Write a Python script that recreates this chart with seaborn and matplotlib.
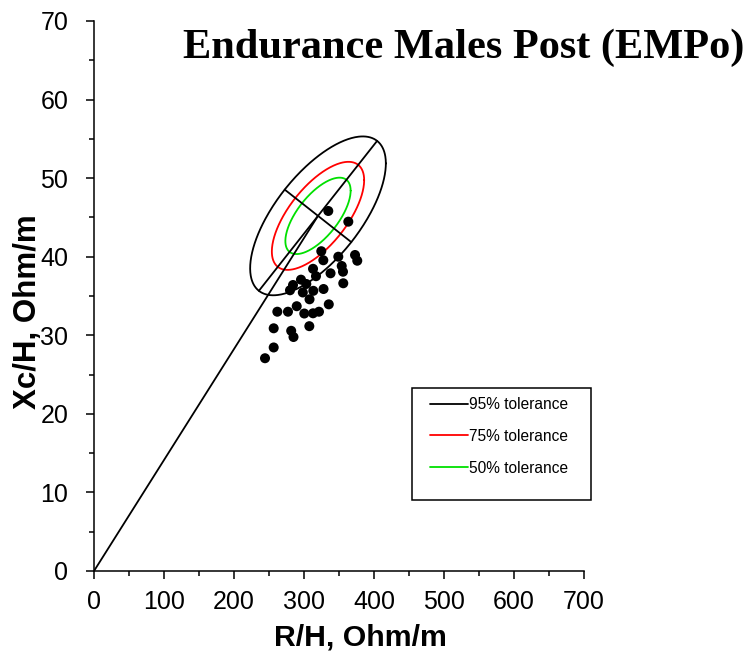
import numpy as np
import pandas as pd
import matplotlib
matplotlib.use("Agg")
import matplotlib.pyplot as plt
from matplotlib.lines import Line2D
from matplotlib.patches import Rectangle
import seaborn as sns

# Individual vectors: resistance and reactance normalised by height (Ohm/m)
r_h = [334.7, 363.3, 324.7, 327.6, 349.0, 372.9, 376.1, 353.9, 355.7, 312.9,
       317.1, 337.9, 295.7, 284.3, 303.3, 280.0, 298.3, 313.3, 327.9, 356.1,
       307.9, 335.4, 261.9, 277.1, 289.6, 300.4, 312.9, 321.4, 256.7, 281.7,
       285.0, 307.6, 256.7, 244.3]
xc_h = [45.82, 44.46, 40.70, 39.55, 40.00, 40.22, 39.49, 38.82, 38.09, 38.46,
        37.52, 37.89, 37.08, 36.40, 36.53, 35.73, 35.45, 35.66, 35.89, 36.62,
        34.58, 33.94, 33.00, 33.00, 33.70, 32.77, 32.80, 33.00, 30.89, 30.57,
        29.78, 31.16, 28.45, 27.08]

# Reference population statistics used for the tolerance ellipses
ref_mean = [320.0, 45.2]     # mean R/H, mean Xc/H
ref_sd = [39.6, 4.13]        # SD R/H, SD Xc/H
ref_corr = 0.66              # correlation R/H vs Xc/H

tolerance_levels = [0.95, 0.75, 0.50]
tolerance_labels = ["95% tolerance", "75% tolerance", "50% tolerance"]
tolerance_colors = ["black", "#ff0000", "#00e000"]

x_ticks = [0, 100, 200, 300, 400, 500, 600, 700]
y_ticks = [0, 10, 20, 30, 40, 50, 60, 70]

sns.set_style("ticks")
plt.rcParams["font.family"] = ["Liberation Sans", "DejaVu Sans"]
plt.rcParams["text.color"] = "black"
plt.rcParams["axes.labelcolor"] = "black"

W, H = 752, 656
fig = plt.figure(figsize=(W / 100, H / 100), dpi=100)
ax = fig.add_axes([94 / W, 1 - 571 / H, 490 / W, 550 / H])
ax.set_xlim(x_ticks[0], x_ticks[-1])
ax.set_ylim(y_ticks[0], y_ticks[-1])

# Covariance of the reference population
mx, my = ref_mean
sx, sy = ref_sd
cov = np.array([[sx ** 2, ref_corr * sx * sy],
                [ref_corr * sx * sy, sy ** 2]])
chol = np.linalg.cholesky(cov)
t = np.linspace(0, 2 * np.pi, 400)
circle = np.vstack([np.cos(t), np.sin(t)])

lw = 1.3
for p, col in zip(tolerance_levels, tolerance_colors):
    k = np.sqrt(-2 * np.log(1 - p))
    pts = chol @ circle * k
    ell = pd.DataFrame({"R": mx + pts[0], "Xc": my + pts[1]})
    sns.lineplot(data=ell, x="R", y="Xc", sort=False, estimator=None,
                 color=col, linewidth=lw, ax=ax, legend=False)

# Principal axes of the 95% ellipse, as they appear on the page
bbox = ax.get_window_extent()
jx = bbox.width / (x_ticks[-1] - x_ticks[0])
jy = bbox.height / (y_ticks[-1] - y_ticks[0])
J = np.diag([jx, jy])
vals, vecs = np.linalg.eigh(J @ cov @ J)
k95 = np.sqrt(-2 * np.log(1 - 0.95))
for i in range(2):
    half = np.linalg.inv(J) @ (vecs[:, i] * np.sqrt(vals[i]) * k95)
    ax.plot([mx - half[0], mx + half[0]], [my - half[1], my + half[1]],
            color="black", linewidth=lw)

# Mean vector from the origin
ax.plot([0, mx], [0, my], color="black", linewidth=lw)

sns.scatterplot(x=r_h, y=xc_h, color="black", s=52, edgecolor="none",
                ax=ax, legend=False, zorder=5)

# Axes styling
sns.despine(ax=ax)
for side in ("left", "bottom"):
    ax.spines[side].set_linewidth(1.1)
    ax.spines[side].set_color("black")
ax.set_xticks(x_ticks)
ax.set_yticks(y_ticks)
ax.set_xticks(np.arange(50, 700, 100), minor=True)
ax.set_yticks(np.arange(5, 70, 10), minor=True)
ax.tick_params(axis="both", which="major", length=5.5, width=1.1,
               direction="out", labelsize=18, colors="black")
ax.tick_params(axis="both", which="minor", length=3.8, width=1.1,
               direction="out", colors="black")
ax.tick_params(axis="x", which="major", pad=8)
ax.tick_params(axis="y", which="major", pad=13)

ax.set_xlabel("R/H, Ohm/m", fontsize=21.8, fontweight="bold", va="center",
              color="black")
ax.xaxis.set_label_coords((360 - 94) / 490, (571 - 637) / 550)
ax.set_ylabel("Xc/H, Ohm/m", fontsize=22.5, fontweight="bold", va="center",
              color="black")
ax.yaxis.set_label_coords((28 - 94) / 490, (571 - 311.5) / 550)

fig.text(464 / W, 1 - 48 / H, "Endurance Males Post (EMPo)",
         family=["Liberation Serif", "DejaVu Serif"], fontweight="bold",
         fontsize=30.5, ha="center", va="center", color="black")

# Legend box with the three tolerance levels
fig.add_artist(Rectangle((412 / W, 1 - 500 / H), 179 / W, 112 / H,
                         transform=fig.transFigure, facecolor="white",
                         edgecolor="black", linewidth=1.1, zorder=3))
handles = [Line2D([0], [0], color=c, linewidth=lw) for c in tolerance_colors]
leg = fig.legend(handles, tolerance_labels, loc="upper left",
                 bbox_to_anchor=(430 / W, 1 - 397 / H), borderaxespad=0,
                 fontsize=11.2, frameon=False, handlelength=2.45,
                 handletextpad=0.05, labelspacing=1.08, borderpad=0,
                 labelcolor="black")
leg.set_zorder(4)

fig.savefig("out.png", dpi=100)
